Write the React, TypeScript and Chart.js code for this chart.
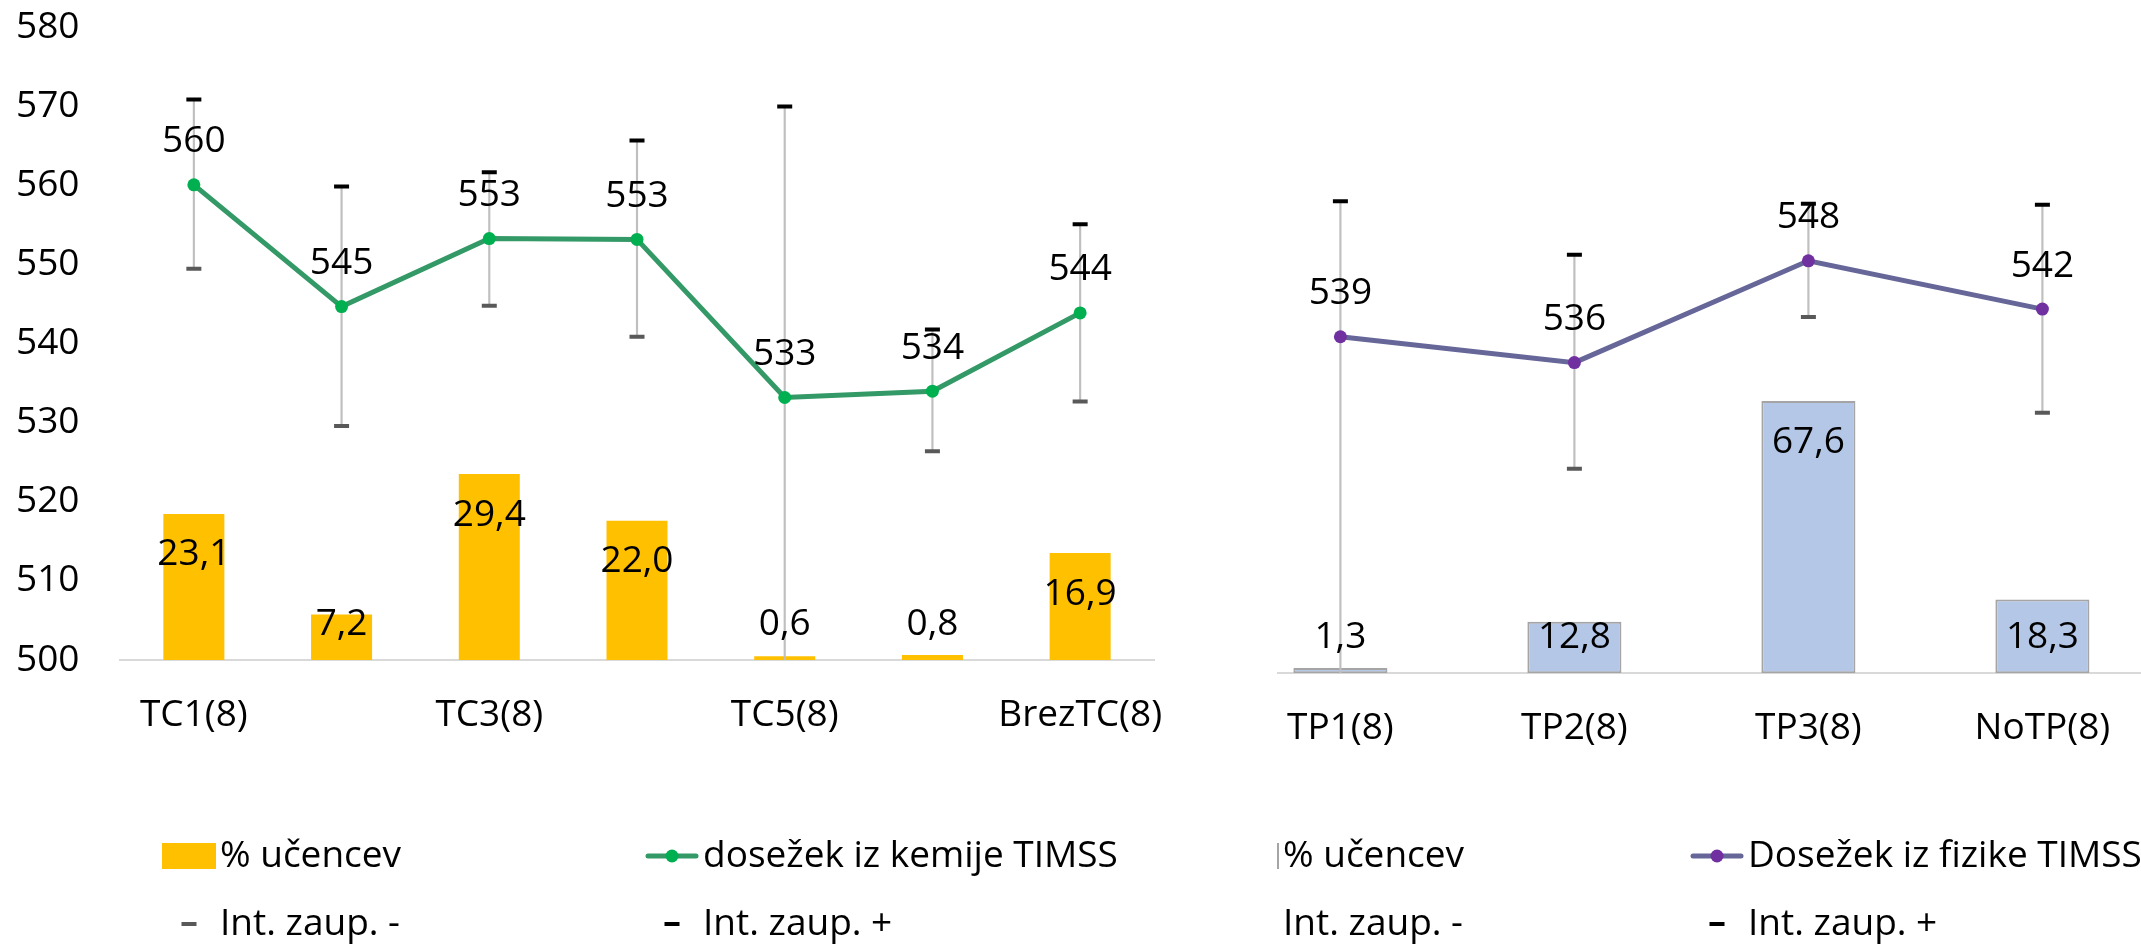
import React, { useEffect, useRef } from "react";
import { Chart, registerables } from "chart.js";

Chart.register(...registerables);

// ---------- DATA ----------
const chemCategories = ["TC1(8)", "TC2(8)", "TC3(8)", "TC4(8)", "TC5(8)", "TC6(8)", "BrezTC(8)"];
const chemPercent = [23.1, 7.2, 29.4, 22.0, 0.6, 0.8, 16.9];
const chemScore = [560.1, 544.7, 553.3, 553.2, 533.2, 534.0, 543.9];
const chemLower = [549.5, 529.6, 544.8, 540.9, 496.5, 526.4, 532.7];
const chemUpper = [570.9, 559.9, 561.7, 565.7, 570.0, 541.8, 555.1];
const chemScoreAxis = [500, 580, 10];
const chemPercentAxis = [0, 100];

const physCategories = ["TP1(8)", "TP2(8)", "TP3(8)", "NoTP(8)"];
const physPercent = [1.3, 12.8, 67.6, 18.3];
const physScore = [539.0, 536.0, 547.8, 542.2];
const physLower = [495.0, 523.7, 541.3, 530.2];
const physUpper = [554.7, 548.5, 554.4, 554.3];
const physScoreAxis = [500, 570, 10];
const physPercentAxis = [0, 150];

const labelPercent = "% učencev";
const labelChem = "dosežek iz kemije TIMSS";
const labelPhys = "Dosežek iz fizike TIMSS";
const labelLower = "Int. zaup. -";
const labelUpper = "Int. zaup. +";

// ---------- STYLE ----------
const FONT = '"Open Sans", "Noto Sans", sans-serif';
const FONT_SIZE = 37;

Chart.defaults.font.family = FONT;
Chart.defaults.font.size = FONT_SIZE;
Chart.defaults.color = "#000";

const valueLabelPlugin = {
  id: "valueLabels",
  afterDatasetsDraw(chart: any) {
    const ctx = chart.ctx;
    const bottom = chart.chartArea.bottom;
    ctx.save();
    ctx.font = `${FONT_SIZE}px ${FONT}`;
    ctx.fillStyle = "#000";
    ctx.textAlign = "center";
    ctx.textBaseline = "middle";
    chart.data.datasets.forEach((ds: any, i: number) => {
      const kind = ds.valueLabel;
      if (!kind) return;
      const meta = chart.getDatasetMeta(i);
      meta.data.forEach((el: any, j: number) => {
        const v = ds.data[j];
        let text: string;
        let y: number;
        if (kind === "bar") {
          text = v.toFixed(1).replace(".", ",");
          y = Math.min(el.y + 41, bottom - 36);
        } else {
          text = String(Math.round(v));
          y = el.y - 43;
        }
        ctx.fillText(text, el.x, y);
      });
    });
    ctx.restore();
  },
};

type LegendEntry = { ds: number; kind: string; x: number; y: number };

function makeLegend(entries: LegendEntry[], offsetX: number) {
  return {
    id: "gridLegend",
    afterDraw(chart: any) {
      const ctx = chart.ctx;
      const w = 54;
      ctx.save();
      ctx.font = `${FONT_SIZE}px ${FONT}`;
      ctx.textBaseline = "middle";
      ctx.textAlign = "left";
      entries.forEach((e) => {
        const ds: any = chart.data.datasets[e.ds];
        const x0 = e.x - offsetX;
        const y = e.y;
        if (e.kind === "box") {
          ctx.fillStyle = ds.backgroundColor;
          ctx.fillRect(x0, y - 13, w, 26);
          if (ds.borderWidth) {
            ctx.strokeStyle = ds.borderColor;
            ctx.lineWidth = ds.borderWidth;
            ctx.strokeRect(x0 + 1, y - 12, w - 2, 24);
          }
        } else if (e.kind === "line") {
          ctx.strokeStyle = ds.borderColor;
          ctx.lineWidth = ds.borderWidth;
          ctx.lineCap = "round";
          ctx.beginPath();
          ctx.moveTo(x0 + 3, y);
          ctx.lineTo(x0 + w - 3, y);
          ctx.stroke();
          ctx.fillStyle = ds.pointBackgroundColor;
          ctx.beginPath();
          ctx.arc(x0 + w / 2, y, ds.pointRadius, 0, Math.PI * 2);
          ctx.fill();
        } else {
          ctx.fillStyle = ds.pointBorderColor;
          ctx.fillRect(x0 + w / 2 - 7.5, y - 2, 15, 4);
        }
        ctx.fillStyle = "#000";
        ctx.fillText(ds.label, x0 + w + 4, y);
      });
      ctx.restore();
    },
  };
}

type Spec = {
  categories: string[];
  percent: number[];
  score: number[];
  lower: number[];
  upper: number[];
  scoreAxis: number[];
  percentAxis: number[];
  scoreLabel: string;
  barColor: string;
  barBorder: string;
  barBorderWidth: number;
  barPct: number;
  lineColor: string;
  pointColor: string;
  showY: boolean;
  yWidth: number;
  everyOther: boolean;
  padding: any;
  legend: LegendEntry[];
  offsetX: number;
};

function buildConfig(s: Spec): any {
  return {
    type: "bar",
    data: {
      labels: s.categories,
      datasets: [
        {
          type: "bar",
          label: labelPercent,
          data: s.percent,
          yAxisID: "y1",
          backgroundColor: s.barColor,
          borderColor: s.barBorder,
          borderWidth: s.barBorderWidth,
          borderSkipped: false,
          barPercentage: s.barPct,
          categoryPercentage: 1,
          grouped: false,
          order: 4,
          valueLabel: "bar",
        },
        {
          type: "line",
          label: s.scoreLabel,
          data: s.score,
          yAxisID: "y",
          borderColor: s.lineColor,
          borderWidth: 5,
          pointRadius: 6.5,
          pointBackgroundColor: s.pointColor,
          pointBorderColor: s.pointColor,
          pointBorderWidth: 0,
          tension: 0,
          order: 2,
          valueLabel: "line",
        },
        {
          type: "line",
          label: labelLower,
          data: s.lower,
          yAxisID: "y",
          showLine: false,
          pointStyle: "line",
          pointRadius: 7.5,
          pointBorderWidth: 4,
          pointBorderColor: "#595959",
          pointBackgroundColor: "#595959",
          borderColor: "#595959",
          order: 1,
        },
        {
          type: "line",
          label: labelUpper,
          data: s.upper,
          yAxisID: "y",
          showLine: false,
          pointStyle: "line",
          pointRadius: 7.5,
          pointBorderWidth: 4,
          pointBorderColor: "#000000",
          pointBackgroundColor: "#000000",
          borderColor: "#000000",
          order: 0,
        },
        {
          type: "bar",
          label: "range",
          data: s.lower.map((lo, i) => [lo, s.upper[i]]),
          yAxisID: "y",
          backgroundColor: "#BFBFBF",
          borderWidth: 0,
          barThickness: 1.5,
          grouped: false,
          clip: 0,
          order: 3,
        },
      ],
    },
    options: {
      responsive: false,
      animation: false,
      events: [],
      layout: { padding: s.padding },
      plugins: {
        legend: { display: false },
        tooltip: { enabled: false },
      },
      scales: {
        x: {
          offset: true,
          grid: { display: false, drawTicks: false, tickLength: 0 },
          border: { display: true, color: "#D9D9D9", width: 2 },
          ticks: {
            autoSkip: false,
            maxRotation: 0,
            padding: 33,
            color: "#000",
            font: { family: FONT, size: FONT_SIZE },
            callback: function (this: any, v: any, i: number) {
              if (s.everyOther && i % 2 === 1) return "";
              return s.categories[i];
            },
          },
          afterFit: (scale: any) => {
            scale.height = 100;
          },
        },
        y: {
          display: s.showY,
          min: s.scoreAxis[0],
          max: s.scoreAxis[1],
          grid: { display: false, drawTicks: false, tickLength: 0 },
          border: { display: false },
          ticks: {
            stepSize: s.scoreAxis[2],
            padding: 0,
            crossAlign: "far",
            color: "#000",
            font: { family: FONT, size: FONT_SIZE },
          },
          afterFit: (scale: any) => {
            scale.width = s.yWidth;
          },
        },
        y1: {
          display: false,
          position: "right",
          min: s.percentAxis[0],
          max: s.percentAxis[1],
        },
      },
    },
    plugins: [valueLabelPlugin, makeLegend(s.legend, s.offsetX)],
  };
}

const leftSpec: Spec = {
  categories: chemCategories,
  percent: chemPercent,
  score: chemScore,
  lower: chemLower,
  upper: chemUpper,
  scoreAxis: chemScoreAxis,
  percentAxis: chemPercentAxis,
  scoreLabel: labelChem,
  barColor: "#FFC000",
  barBorder: "#FFC000",
  barBorderWidth: 0,
  barPct: 0.413,
  lineColor: "#339966",
  pointColor: "#00B050",
  showY: true,
  yWidth: 104,
  everyOther: true,
  padding: { left: 16, right: 123, top: 27.5, bottom: 185 },
  legend: [
    { ds: 0, kind: "box", x: 162, y: 856 },
    { ds: 1, kind: "line", x: 645, y: 856 },
    { ds: 2, kind: "dash", x: 162, y: 924 },
    { ds: 3, kind: "dash", x: 645, y: 924 },
  ],
  offsetX: 0,
};

const RIGHT_LEFT = 1100;
const RIGHT_WIDTH = 1200;

const rightSpec: Spec = {
  categories: physCategories,
  percent: physPercent,
  score: physScore,
  lower: physLower,
  upper: physUpper,
  scoreAxis: physScoreAxis,
  percentAxis: physPercentAxis,
  scoreLabel: labelPhys,
  barColor: "#B4C7E7",
  barBorder: "#A5A5A5",
  barBorderWidth: 2,
  barPct: 0.402,
  lineColor: "#666699",
  pointColor: "#7030A0",
  showY: false,
  yWidth: 0,
  everyOther: false,
  padding: { left: 123.4, right: 140.6, top: 69.2, bottom: 171.7 },
  legend: [
    { ds: 0, kind: "box", x: 1225, y: 856 },
    { ds: 1, kind: "line", x: 1690, y: 856 },
    { ds: 2, kind: "dash", x: 1225, y: 924 },
    { ds: 3, kind: "dash", x: 1690, y: 924 },
  ],
  offsetX: RIGHT_LEFT,
};

function ChartCanvas({ spec, left, width, z }: { spec: Spec; left: number; width: number; z: number }) {
  const ref = useRef<HTMLCanvasElement | null>(null);
  useEffect(() => {
    if (!ref.current) return;
    const chart = new Chart(ref.current, buildConfig(spec));
    return () => chart.destroy();
  }, []);
  return (
    <canvas
      ref={ref}
      width={width}
      height={945}
      style={{ position: "absolute", left, top: 0, width, height: 945, zIndex: z, background: "#fff", display: "block" }}
    />
  );
}

export default function App() {
  return (
    <div
      style={{
        position: "fixed",
        left: 0,
        top: 0,
        width: 2141,
        height: 945,
        overflow: "hidden",
        background: "#fff",
      }}
    >
      <ChartCanvas spec={rightSpec} left={RIGHT_LEFT} width={RIGHT_WIDTH} z={1} />
      <ChartCanvas spec={leftSpec} left={0} width={1277} z={2} />
    </div>
  );
}
